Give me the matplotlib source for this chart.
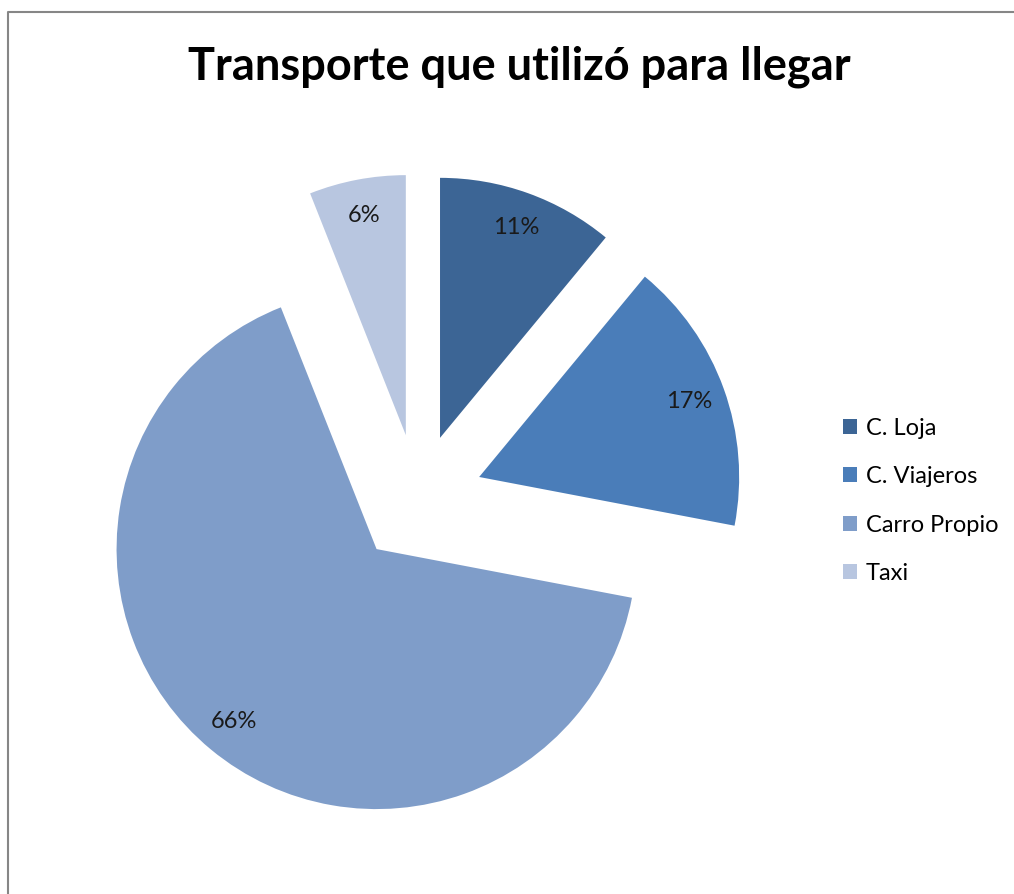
import matplotlib.pyplot as plt
from matplotlib.lines import Line2D

# data
categories = ['C. Loja', 'C. Viajeros', 'Carro Propio', 'Taxi']
percents = [11, 17, 66, 6]
colors = ['#3C6595', '#4A7DB9', '#7F9DC9', '#B8C6E0']

plt.rcParams['font.family'] = ['Lato', 'DejaVu Sans']

W, H = 1014, 894
fig = plt.figure(figsize=(W / 100, H / 100), dpi=100)

# grey chart-area border, only the left and top edges show in the crop
bx, by = 8 / W, 1 - 12 / H
fig.lines.append(Line2D([bx, bx, 1.01], [-0.01, by, by], transform=fig.transFigure,
                        color='#868686', linewidth=1.5))

# pie centre (418, 499) px, radius 260 px
cx, cy, r = 418, 499, 260
span = 1.45
ax = fig.add_axes([(cx - span * r) / W, (H - cy - span * r) / H,
                   2 * span * r / W, 2 * span * r / H])
wedges, texts, autotexts = ax.pie(percents, colors=colors, startangle=90,
                                  counterclock=False, explode=[0.25] * 4,
                                  autopct='%d%%', pctdistance=0.86,
                                  textprops={'fontsize': 17, 'color': '#1a1a1a'})
ax.set_xlim(-span, span)
ax.set_ylim(-span, span)
ax.set_aspect('equal')
ax.axis('off')

fig.text(519 / W, 1 - 67 / H, 'Transporte que utilizó para llegar',
         ha='center', va='center', fontsize=32.5, fontweight='bold')

fig.legend(wedges, categories, loc='center left',
           bbox_to_anchor=(822 / W, 1 - 501 / H), frameon=False,
           fontsize=17, handlelength=0.6, handleheight=0.6,
           handletextpad=0.35, labelspacing=1.16)

fig.savefig('out.png', dpi=100)
